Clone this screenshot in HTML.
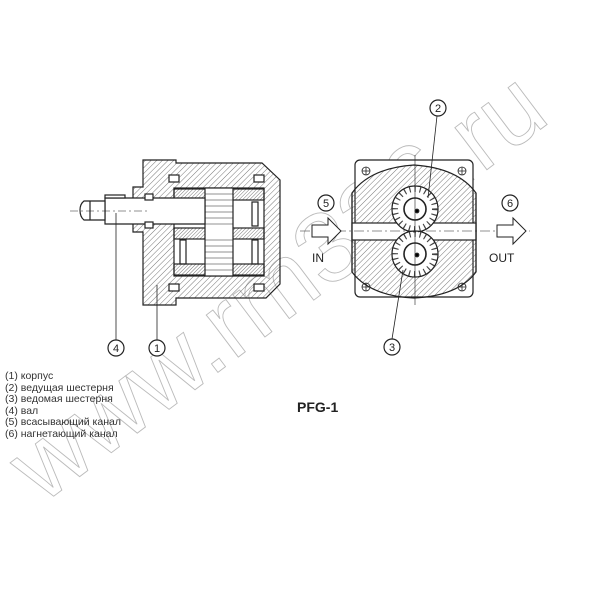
<!DOCTYPE html>
<html><head><meta charset="utf-8"><style>
html,body{margin:0;padding:0;background:#fff;}
svg{display:block;}
text{font-family:"Liberation Sans","DejaVu Sans",sans-serif;}
</style></head><body>
<svg width="600" height="600" viewBox="0 0 600 600" xmlns="http://www.w3.org/2000/svg">
<defs>
<pattern id="h" width="4" height="4" patternUnits="userSpaceOnUse" patternTransform="rotate(45)">
<line x1="0" y1="0" x2="0" y2="4" stroke="#555" stroke-width="0.8"/>
</pattern>
<pattern id="hd" width="2.5" height="2.5" patternUnits="userSpaceOnUse" patternTransform="rotate(45)">
<line x1="0" y1="0" x2="0" y2="2.5" stroke="#666" stroke-width="0.9"/>
</pattern>
</defs>
<text x="0" y="0" font-size="100" fill="none" stroke="#bbb" stroke-width="0.9" transform="translate(42,505) rotate(-37)">www.rm336.ru</text>
<g stroke="#222" stroke-width="1.2" fill="none">
<path d="M143,160 H176 V163 H262 L280,180 V284 L266,298 H176 V305 H143 V232 H133 V187 H143 Z" fill="url(#h)"/>
<rect x="174" y="188" width="90" height="88" fill="#fff"/>
<rect x="174" y="189" width="90" height="11" fill="url(#hd)"/>
<rect x="174" y="228" width="90" height="11" fill="url(#hd)"/>
<rect x="174" y="264" width="90" height="11" fill="url(#hd)"/>
<rect x="205" y="188" width="28" height="88" fill="#fff"/>
<g stroke-width="0.6">
<line x1="205" y1="194" x2="233" y2="194"/><line x1="205" y1="200" x2="233" y2="200"/><line x1="205" y1="206" x2="233" y2="206"/><line x1="205" y1="212" x2="233" y2="212"/><line x1="205" y1="218" x2="233" y2="218"/><line x1="205" y1="224" x2="233" y2="224"/><line x1="205" y1="240" x2="233" y2="240"/><line x1="205" y1="246" x2="233" y2="246"/><line x1="205" y1="252" x2="233" y2="252"/><line x1="205" y1="258" x2="233" y2="258"/><line x1="205" y1="264" x2="233" y2="264"/><line x1="205" y1="270" x2="233" y2="270"/>
</g>
<rect x="180" y="240" width="6" height="24"/><rect x="252" y="240" width="6" height="24"/>
<rect x="252" y="202" width="6" height="24"/>
<rect x="169" y="175" width="10" height="7" fill="#fff"/><rect x="254" y="175" width="10" height="7" fill="#fff"/>
<rect x="169" y="284" width="10" height="7" fill="#fff"/><rect x="254" y="284" width="10" height="7" fill="#fff"/>
<path d="M105,198 H205 V224 H105 Z" fill="#fff"/>
<path d="M84,201 H105 V220 H84 Q80,217 80,210 Q80,204 84,201 Z" fill="#fff"/>
<line x1="90" y1="201" x2="90" y2="220"/>
<rect x="105" y="195" width="20" height="3" fill="#fff"/>
<rect x="145" y="194" width="8" height="6" fill="#fff"/><rect x="145" y="222" width="8" height="6" fill="#fff"/>
<line x1="70" y1="211" x2="150" y2="211" stroke-width="0.6" stroke-dasharray="8,3,2,3"/>
<line x1="116" y1="213" x2="116" y2="340" stroke-width="0.8"/>
<line x1="157" y1="285" x2="157" y2="340" stroke-width="0.8"/>
<circle cx="116" cy="348" r="8" fill="#fff"/><circle cx="157" cy="348" r="8" fill="#fff"/>

<rect x="355" y="160" width="118" height="137" rx="5" fill="#fff"/>
<path d="M352,193 Q370,168 414,165 Q458,168 476,193 V272 Q458,296 414,298 Q370,296 352,272 Z" fill="url(#h)"/>
<rect x="352" y="223" width="124" height="17" fill="#fff"/>
<line x1="352" y1="193" x2="352" y2="272"/><line x1="476" y1="193" x2="476" y2="272"/>
<circle cx="415" cy="209" r="23" fill="#fff"/>
<circle cx="415" cy="254" r="23" fill="#fff"/>
<circle cx="415" cy="209" r="20" stroke="#444" stroke-width="6" stroke-dasharray="1.2,4"/>
<circle cx="415" cy="254" r="20" stroke="#444" stroke-width="6" stroke-dasharray="1.2,4"/>
<circle cx="415" cy="209" r="23" stroke-width="0.8" stroke-dasharray="3,2"/>
<circle cx="415" cy="254" r="23" stroke-width="0.8" stroke-dasharray="3,2"/>
<circle cx="415" cy="209" r="11" fill="#fff" stroke-width="1.6"/><circle cx="415" cy="254" r="11" fill="#fff" stroke-width="1.6"/>
<circle cx="417" cy="211" r="1.8" fill="#000"/><circle cx="417" cy="255" r="1.8" fill="#000"/>
<line x1="415" y1="155" x2="415" y2="305" stroke-width="0.6"/>
<line x1="300" y1="231" x2="530" y2="231" stroke-width="0.6" stroke-dasharray="10,3,2,3"/>
<g stroke-width="0.8">
<circle cx="366" cy="171" r="4"/><circle cx="462" cy="171" r="4"/><circle cx="366" cy="287" r="4"/><circle cx="462" cy="287" r="4"/>
<path d="M362,171h8M366,167v8M458,171h8M462,167v8M362,287h8M366,283v8M458,287h8M462,283v8"/>
</g>
<path d="M312,225 H328 V218 L341,231 L328,244 V237 H312 Z" fill="#fff" stroke-width="1"/>
<path d="M497,225 H513 V218 L526,231 L513,244 V237 H497 Z" fill="#fff" stroke-width="1"/>
<path d="M437,116 L428,198" stroke-width="0.8"/>
<path d="M392,339 L403,270" stroke-width="0.8"/>
<circle cx="438" cy="108" r="8" fill="#fff"/><circle cx="392" cy="347" r="8" fill="#fff"/>
<circle cx="326" cy="203" r="8" fill="#fff"/><circle cx="510" cy="203" r="8" fill="#fff"/>
</g>
<g font-size="11" fill="#222" text-anchor="middle">
<text x="116" y="352">4</text><text x="157" y="352">1</text>
<text x="438" y="112">2</text><text x="392" y="351">3</text>
<text x="326" y="207">5</text><text x="510" y="207">6</text>
</g>
<text x="312" y="262" font-size="12" fill="#222">IN</text>
<text x="489" y="262" font-size="12" fill="#222">OUT</text>
<g font-size="10.5" fill="#333">
<text x="5" y="379">(1) корпус</text>
<text x="5" y="391">(2) ведущая шестерня</text>
<text x="5" y="402">(3) ведомая шестерня</text>
<text x="5" y="414">(4) вал</text>
<text x="5" y="425">(5) всасывающий канал</text>
<text x="5" y="437">(6) нагнетающий канал</text>
</g>
<text x="297" y="412" font-size="14" font-weight="bold" fill="#222">PFG-1</text>
</svg>
</body></html>
